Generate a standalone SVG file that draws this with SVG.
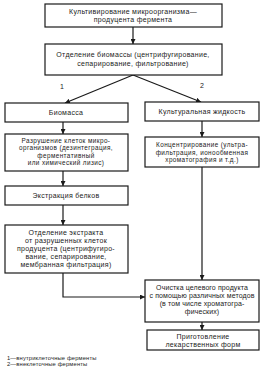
<svg xmlns="http://www.w3.org/2000/svg" width="262" height="377" viewBox="0 0 262 377">
<defs>
<marker id="ah" viewBox="0 0 6 6" refX="6" refY="3" markerWidth="5" markerHeight="5" orient="auto" markerUnits="userSpaceOnUse">
<path d="M0,0 L6,3 L0,6 z" fill="#1a1a1a"/>
</marker>
<style>
.box{fill:#fff;stroke:#1a1a1a;stroke-width:1.2}
.t{font-family:"Liberation Sans",Arial,sans-serif;font-size:7px;letter-spacing:0.3px;fill:#222;text-anchor:middle}
.s{font-size:6.4px;letter-spacing:0.4px}
.n{letter-spacing:0.1px}
.fn{font-family:"Liberation Sans",Arial,sans-serif;font-size:5.8px;letter-spacing:0.15px;fill:#222}
.c{fill:none;stroke:#1a1a1a;stroke-width:1.2}
</style>
</defs>
<rect width="262" height="377" fill="#fff"/>
<g id="connectors">
<line class="c" x1="133" y1="27" x2="133" y2="44" marker-end="url(#ah)"/>
<line class="c" x1="133" y1="75" x2="65" y2="103" marker-end="url(#ah)"/>
<line class="c" x1="133" y1="75" x2="201" y2="102" marker-end="url(#ah)"/>
<line class="c" x1="63" y1="122" x2="63" y2="134" marker-end="url(#ah)"/>
<line class="c" x1="202" y1="121" x2="202" y2="137" marker-end="url(#ah)"/>
<line class="c" x1="63" y1="171" x2="63" y2="186" marker-end="url(#ah)"/>
<line class="c" x1="63" y1="205" x2="63" y2="225" marker-end="url(#ah)"/>
<line class="c" x1="202" y1="167" x2="202" y2="280" marker-end="url(#ah)"/>
<polyline class="c" points="63,273 63,297 145,297" marker-end="url(#ah)"/>
<line class="c" x1="202" y1="322" x2="202" y2="330" marker-end="url(#ah)"/>
<text class="t" x="62" y="89">1</text>
<text class="t" x="202" y="88">2</text>
</g>
<g id="n1">
<rect class="box" x="45" y="4" width="177" height="23"/>
<text class="t" x="133" y="13.5">Культивирование микроорганизма—</text>
<text class="t" x="133" y="21.5">продуцента фермента</text>
</g>
<g id="n2">
<rect class="box" x="45" y="44" width="177" height="31"/>
<text class="t" x="133" y="56.5">Отделение биомассы (центрифугирование,</text>
<text class="t" x="133" y="65.5">сепарирование, фильтрование)</text>
</g>
<g id="n3">
<rect class="box" x="5" y="103" width="123" height="19"/>
<text class="t" x="66" y="115">Биомасса</text>
</g>
<g id="n4">
<rect class="box" x="145" y="102" width="114" height="19"/>
<text class="t" x="202" y="114">Культуральная жидкость</text>
</g>
<g id="n5">
<rect class="box" x="5" y="134" width="123" height="37"/>
<text class="t s" x="66" y="142.5">Разрушение клеток микро-</text>
<text class="t s" x="66" y="150">организмов  (дезинтеграция,</text>
<text class="t s" x="66" y="157.5">ферментативный</text>
<text class="t s" x="66" y="165">или химический лизис)</text>
</g>
<g id="n6">
<rect class="box" x="145" y="137" width="114" height="30"/>
<text class="t s" x="202" y="147">Концентрирование (ультра-</text>
<text class="t s" x="202" y="154.5">фильтрация, ионообменная</text>
<text class="t s" x="202" y="162">хроматография и т.д.)</text>
</g>
<g id="n7">
<rect class="box" x="5" y="186" width="123" height="19"/>
<text class="t" x="66" y="198">Экстракция белков</text>
</g>
<g id="n8">
<rect class="box" x="5" y="225" width="123" height="48"/>
<text class="t" x="66" y="235">Отделение экстракта</text>
<text class="t" x="66" y="243">от разрушенных клеток</text>
<text class="t" x="66" y="251">продуцента (центрифугиро-</text>
<text class="t" x="66" y="259">вание, сепарирование,</text>
<text class="t" x="66" y="267">мембранная фильтрация)</text>
</g>
<g id="n9">
<rect class="box" x="145" y="280" width="114" height="42"/>
<text class="t n" x="202" y="290">Очистка целевого продукта</text>
<text class="t n" x="202" y="298">с помощью различных методов</text>
<text class="t n" x="202" y="306">(в том числе хроматогра-</text>
<text class="t n" x="202" y="314">фических)</text>
</g>
<g id="n10">
<rect class="box" x="147" y="330" width="112" height="20"/>
<text class="t" x="203" y="338.5">Приготовление</text>
<text class="t" x="203" y="346.5">лекарственных форм</text>
</g>
<g id="footnotes">
<text class="fn" x="7" y="360">1—внутриклеточные ферменты</text>
<text class="fn" x="7" y="366">2—внеклеточные ферменты</text>
</g>
</svg>
